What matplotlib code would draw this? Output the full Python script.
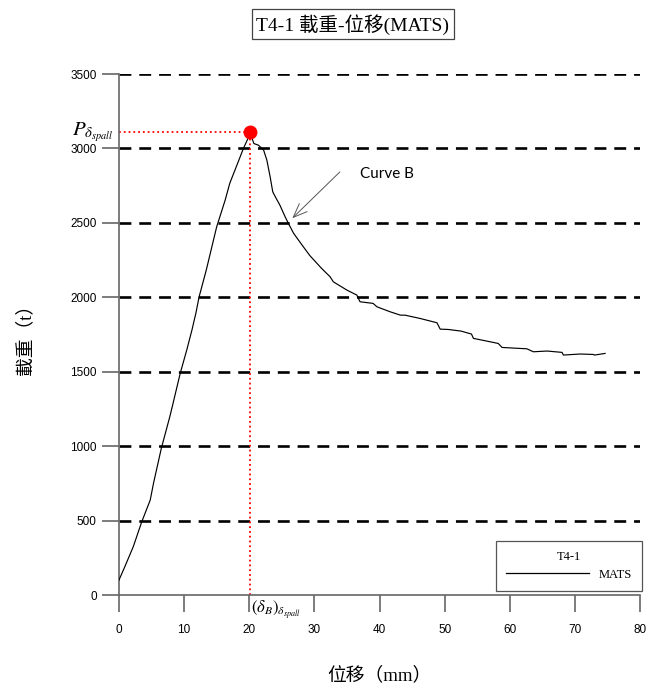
import matplotlib.pyplot as plt
from matplotlib.lines import Line2D

plt.rcParams['font.family'] = ['Liberation Sans', 'Noto Sans CJK TC']
plt.rcParams['mathtext.fontset'] = 'stix'

serif = ['Liberation Serif', 'Noto Sans CJK TC']

# load-displacement curve of specimen T4-1 (MATS)
disp = [0.0, 0.9, 2.2, 3.5, 4.8, 5.3, 6.5, 7.8, 8.3, 9.4, 10.4, 11.2, 11.8, 12.3,
        13.4, 15.0, 16.3, 17.0, 18.3, 19.1, 19.8, 20.1, 20.7, 21.4, 22.2, 22.7,
        23.2, 23.6, 24.0, 24.7, 25.5, 26.0, 26.8, 28.1, 29.3, 31.1, 32.4, 32.9,
        35.0, 36.5, 37.0, 39.0, 39.6, 41.6, 43.2, 43.9, 46.2, 48.8, 49.3, 50.5,
        52.5, 54.1, 54.4, 56.2, 58.2, 58.8, 62.6, 63.6, 65.7, 68.0, 68.2, 70.8,
        72.8, 73.0, 74.6]
load = [100, 190, 325, 492, 638, 750, 985, 1197, 1287, 1489, 1645, 1780, 1892, 2003,
        2183, 2474, 2653, 2765, 2910, 3000, 3067, 3110, 3033, 3022, 2989, 2921,
        2810, 2709, 2675, 2619, 2541, 2497, 2430, 2351, 2280, 2194, 2138, 2104,
        2048, 2015, 1970, 1959, 1936, 1903, 1880, 1880, 1858, 1829, 1786, 1784,
        1773, 1753, 1724, 1708, 1690, 1663, 1654, 1634, 1639, 1630, 1612, 1619,
        1616, 1612, 1623]

peak_disp = 20.1
peak_load = 3110

x_ticks = [0, 10, 20, 30, 40, 50, 60, 70, 80]
y_ticks = [0, 500, 1000, 1500, 2000, 2500, 3000, 3500]
grid_levels = [500, 1000, 1500, 2000, 2500, 3000, 3500]

fig = plt.figure(figsize=(6.5, 6.93), dpi=100)
ax = fig.add_axes([0.183, 0.1414, 0.802, 0.7518])

# dashed reference lines
for g in grid_levels:
    ax.axhline(g, color='black', lw=1.9, linestyle=(0, (4.5, 3.0)), zorder=1)

ax.plot(disp, load, color='black', lw=0.85, zorder=3)

# peak marker with dotted guides
ax.plot([0, peak_disp], [peak_load, peak_load], color='red', lw=1.3, linestyle=':', zorder=2)
ax.plot([peak_disp, peak_disp], [0, peak_load], color='red', lw=1.3, linestyle=':', zorder=2)
ax.plot(peak_disp, peak_load, 'o', color='red', markersize=9, zorder=4)

ax.set_xlim(0, 80)
ax.set_ylim(0, 3500)
ax.set_xticks(x_ticks)
ax.set_yticks(y_ticks)
for s in ['top', 'right']:
    ax.spines[s].set_visible(False)
for s in ['left', 'bottom']:
    ax.spines[s].set_color('#666666')
    ax.spines[s].set_linewidth(1.2)
ax.tick_params(axis='y', direction='out', length=12, width=1.2, color='#666666',
               labelsize=8.5, pad=4)
ax.tick_params(axis='x', direction='out', length=12, width=1.2, color='#666666',
               labelsize=8.5, pad=9)

ax.text(-0.9, peak_load, r'$P_{\delta_{spall}}$', ha='right', va='center',
        fontsize=15, clip_on=False)
ax.text(peak_disp + 0.1, -25, r'$(\delta_B)_{\delta_{spall}}$', ha='left', va='top',
        fontsize=12, clip_on=False)

ax.annotate('', xy=(26.3, 2518), xytext=(34.2, 2855),
            arrowprops=dict(arrowstyle='->,head_length=1.0,head_width=0.4',
                            color='#555555', lw=0.7))
ax.text(37.0, 2830, 'Curve B', fontsize=11, family=['Lato', 'DejaVu Sans'],
        ha='left', va='center')

handle = Line2D([], [], color='black', lw=0.9)
leg = ax.legend([handle], ['MATS'], title='T4-1', loc='lower right',
                bbox_to_anchor=(1.003, 0.008), fancybox=False, framealpha=1,
                edgecolor='#555555', handlelength=6.6, borderaxespad=0.0,
                prop={'family': serif, 'size': 9}, title_fontproperties={'family': serif, 'size': 9},
                borderpad=0.8, handletextpad=0.8)
leg.get_frame().set_linewidth(0.9)

fig.text(0.543, 0.965, 'T4-1 載重-位移(MATS)', ha='center', va='center', fontsize=14,
         family=serif,
         bbox=dict(boxstyle='square,pad=0.25', facecolor='white', edgecolor='#444444', lw=0.9))

ax.set_xlabel('位移（mm）', fontsize=13.5, family=serif, labelpad=22)
ax.set_ylabel('載重（t）', fontsize=13.5, family=serif, labelpad=26)

fig.savefig('out.png', dpi=100)
